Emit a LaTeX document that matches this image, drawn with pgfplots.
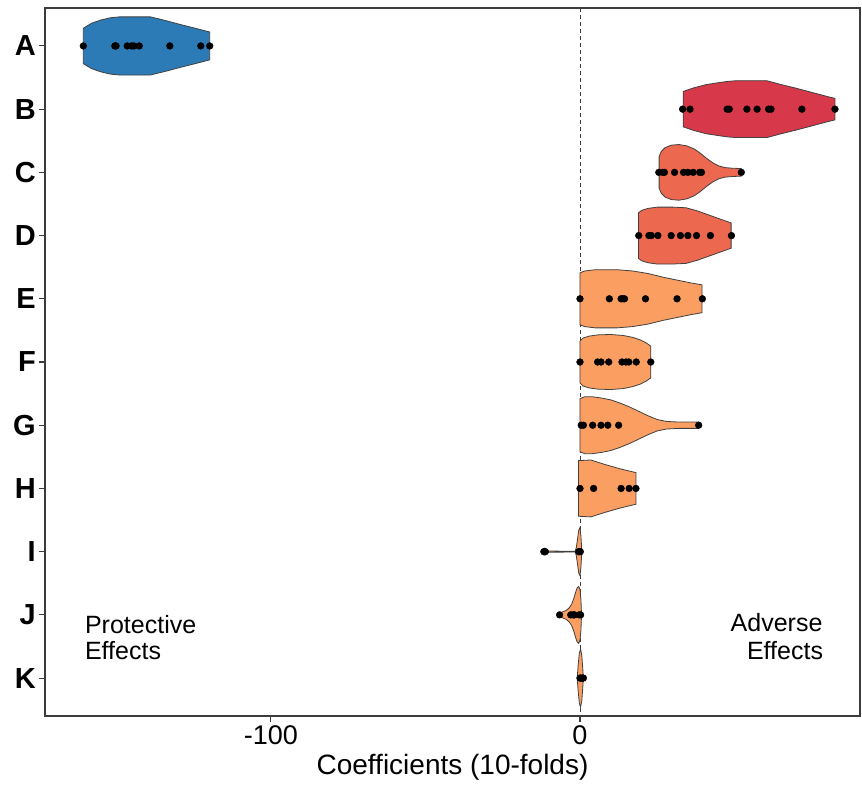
\documentclass[border=0pt]{standalone}
\usepackage{fontspec}
\setmainfont{Liberation Sans}
\usepackage{pgfplots}
\pgfplotsset{compat=1.18}
\definecolor{cA}{RGB}{44,123,182}
\definecolor{cB}{RGB}{215,56,74}
\definecolor{cCD}{RGB}{236,104,79}
\definecolor{cEK}{RGB}{251,158,98}
\definecolor{frame}{RGB}{60,60,60}
\begin{document}
\begin{tikzpicture}
\begin{axis}[name=ax, scale only axis, width=815pt, height=708pt,
  xmin=-173.1, xmax=90.6, ymin=0.4, ymax=11.6, y dir=reverse,
  ytick={1,2,3,4,5,6,7,8,9,10,11},
  yticklabels={A,B,C,D,E,F,G,H,I,J,K},
  xtick={-100,0},
  /pgf/number format/assume math mode=true,
  tick align=outside, major tick length=6pt,
  xtick pos=bottom, ytick pos=left,
  axis line style={frame, line width=1.1pt},
  every tick/.style={frame, line width=1.1pt},
  xticklabel style={font=\fontsize{27}{30}\selectfont, inner sep=2pt, yshift=-1pt},
  yticklabel style={font=\fontsize{29}{32}\selectfont\bfseries, inner sep=2pt, xshift=-1pt},
  xlabel={Coefficients (10-folds)},
  xlabel style={font=\fontsize{28}{31}\selectfont, yshift=-4pt},
  clip=true,
]
\draw[dashed, dash pattern=on 4pt off 3pt, frame, line width=0.8pt] (axis cs:0,0.4) -- (axis cs:0,11.6);
\pgfplotsset{vio/.style={draw=black!75, line width=0.8pt}}
% A
\addplot[vio, fill=cA] coordinates {(-160.7,0.72) (-158,0.64) (-155,0.59) (-152,0.555) (-149,0.54) (-145,0.54) (-139,0.54) (-134,0.60) (-129,0.665) (-124.5,0.72) (-119.8,0.78)
 (-119.8,1.22) (-124.5,1.28) (-129,1.335) (-134,1.40) (-139,1.46) (-145,1.46) (-149,1.46) (-152,1.445) (-155,1.41) (-158,1.36) (-160.7,1.28)} --cycle;
% B
\addplot[vio, fill=cB] coordinates {(33.4,1.72) (37,1.66) (41,1.61) (45,1.58) (48,1.56) (50.7,1.55) (60.4,1.55) (65,1.61) (70,1.67) (75,1.735) (80,1.80) (82.5,1.83)
 (82.5,2.17) (80,2.20) (75,2.265) (70,2.33) (65,2.39) (60.4,2.45) (50.7,2.45) (48,2.44) (45,2.42) (41,2.39) (37,2.34) (33.4,2.28)} --cycle;
% C
\addplot[vio, fill=cCD] coordinates {(25.6,2.75) (26.3,2.67) (27.5,2.61) (29.5,2.57) (32,2.56) (34.5,2.58) (37,2.63) (39,2.70) (41,2.78) (43,2.85) (45,2.90) (47,2.925) (49.5,2.935) (52.2,2.94)
 (52.2,3.06) (49.5,3.065) (47,3.075) (45,3.10) (43,3.15) (41,3.22) (39,3.30) (37,3.37) (34.5,3.42) (32,3.44) (29.5,3.43) (27.5,3.39) (26.3,3.33) (25.6,3.25)} --cycle;
% D
\addplot[vio, fill=cCD] coordinates {(18.9,3.64) (20,3.60) (22,3.57) (25,3.55) (30,3.55) (34.3,3.56) (38,3.61) (42,3.68) (46,3.75) (48.9,3.80)
 (48.9,4.20) (46,4.25) (42,4.32) (38,4.39) (34.3,4.44) (30,4.45) (25,4.45) (22,4.43) (20,4.40) (18.9,4.36)} --cycle;
% E
\addplot[vio, fill=cEK] coordinates {(0,4.59) (1.5,4.56) (5,4.54) (12,4.54) (17,4.56) (22,4.60) (27,4.66) (32,4.71) (36,4.75) (39.5,4.78)
 (39.5,5.22) (36,5.25) (32,5.29) (27,5.34) (22,5.40) (17,5.44) (12,5.46) (5,5.46) (1.5,5.44) (0,5.41)} --cycle;
% F
\addplot[vio, fill=cEK] coordinates {(0,5.67) (1,5.62) (3,5.59) (6,5.57) (10,5.565) (14,5.58) (17,5.61) (19.5,5.65) (21.5,5.70) (22.9,5.75)
 (22.9,6.25) (21.5,6.30) (19.5,6.35) (17,6.39) (14,6.42) (10,6.435) (6,6.43) (3,6.41) (1,6.38) (0,6.33)} --cycle;
% G
\addplot[vio, fill=cEK] coordinates {(0,6.58) (1.5,6.55) (4,6.55) (7,6.57) (10,6.60) (13,6.65) (16,6.71) (19,6.78) (22,6.85) (25,6.91) (28,6.94) (32,6.95) (38.4,6.95)
 (38.4,7.05) (32,7.05) (28,7.06) (25,7.09) (22,7.15) (19,7.22) (16,7.29) (13,7.35) (10,7.40) (7,7.43) (4,7.45) (1.5,7.45) (0,7.42)} --cycle;
% H
\addplot[vio, fill=cEK] coordinates {(-0.5,7.56) (3.5,7.55) (8,7.62) (13,7.69) (18.1,7.75)
 (18.1,8.25) (13,8.31) (8,8.38) (3.5,8.45) (-0.5,8.44)} --cycle;
% I
\addplot[vio, fill=cEK] coordinates {(-12.2,9) (-11.9,8.96) (-11.5,8.945) (-11,8.955) (-10.4,8.99) (-1.6,8.995) (-1.2,8.94) (-0.8,8.80) (-0.4,8.66) (0,8.62) (0.3,8.75) (0.6,9)
 (0.3,9.25) (0,9.38) (-0.4,9.34) (-0.8,9.20) (-1.2,9.06) (-1.6,9.005) (-10.4,9.01) (-11,9.045) (-11.5,9.055) (-11.9,9.04)} --cycle;
% J
\addplot[vio, fill=cEK] coordinates {(-7,10) (-6.5,9.97) (-5.5,9.95) (-4.5,9.93) (-3.5,9.89) (-2.7,9.83) (-2,9.74) (-1.4,9.64) (-0.9,9.57) (-0.4,9.55) (0,9.60) (0.3,9.75) (0.5,10)
 (0.3,10.25) (0,10.40) (-0.4,10.45) (-0.9,10.43) (-1.4,10.36) (-2,10.26) (-2.7,10.17) (-3.5,10.11) (-4.5,10.07) (-5.5,10.05) (-6.5,10.03)} --cycle;
% K
\addplot[vio, fill=cEK] coordinates {(-0.9,11) (-0.6,10.8) (-0.2,10.6) (0.2,10.54) (0.6,10.65) (0.9,10.85) (1.1,11)
 (0.9,11.15) (0.6,11.35) (0.2,11.46) (-0.2,11.40) (-0.6,11.2)} --cycle;
% points
\addplot[only marks, mark=*, mark size=3.4pt, black] table {
x y
-160.7 1
-150.5 1
-150.1 1
-146.5 1
-145.1 1
-144.3 1
-142.6 1
-132.7 1
-122.7 1
-119.8 1
33.2 2
35.6 2
47.6 2
48.3 2
54.0 2
57.3 2
61.0 2
61.8 2
71.8 2
82.5 2
25.5 3
26.8 3
27.3 3
30.6 3
33.5 3
34.9 3
36.6 3
38.7 3
39.3 3
52.2 3
19.0 4
22.3 4
23.1 4
25.2 4
29.5 4
32.5 4
34.9 4
37.7 4
42.2 4
49.0 4
0.0 5
9.5 5
13.3 5
13.9 5
14.4 5
21.2 5
31.4 5
39.6 5
0.0 6
5.7 6
6.8 6
9.3 6
13.6 6
14.9 6
15.8 6
18.2 6
22.9 6
0.4 7
1.1 7
4.1 7
6.8 7
9.0 7
12.5 7
38.4 7
0.0 8
4.4 8
13.3 8
15.9 8
18.1 8
-11.7 9
-11.2 9
-0.4 9
-0.1 9
0.1 9
-6.6 10
-3.0 10
-2.2 10
-1.8 10
-0.3 10
0.2 10
0.0 11
0.3 11
0.8 11
1.1 11
};
\node[anchor=base west, font=\fontsize{25}{26}\selectfont, inner sep=0pt] at (axis cs:-160.2,10.29) {Protective};
\node[anchor=base west, font=\fontsize{25}{26}\selectfont, inner sep=0pt] at (axis cs:-160.2,10.70) {Effects};
\node[anchor=base east, font=\fontsize{25}{26}\selectfont, inner sep=0pt] at (axis cs:78.5,10.27) {Adverse};
\node[anchor=base east, font=\fontsize{25}{26}\selectfont, inner sep=0pt] at (axis cs:78.7,10.70) {Effects};
\end{axis}
\path ([xshift=-45pt,yshift=-69pt]ax.south west) rectangle ([xshift=2pt,yshift=8pt]ax.north east);
\end{tikzpicture}
\end{document}
